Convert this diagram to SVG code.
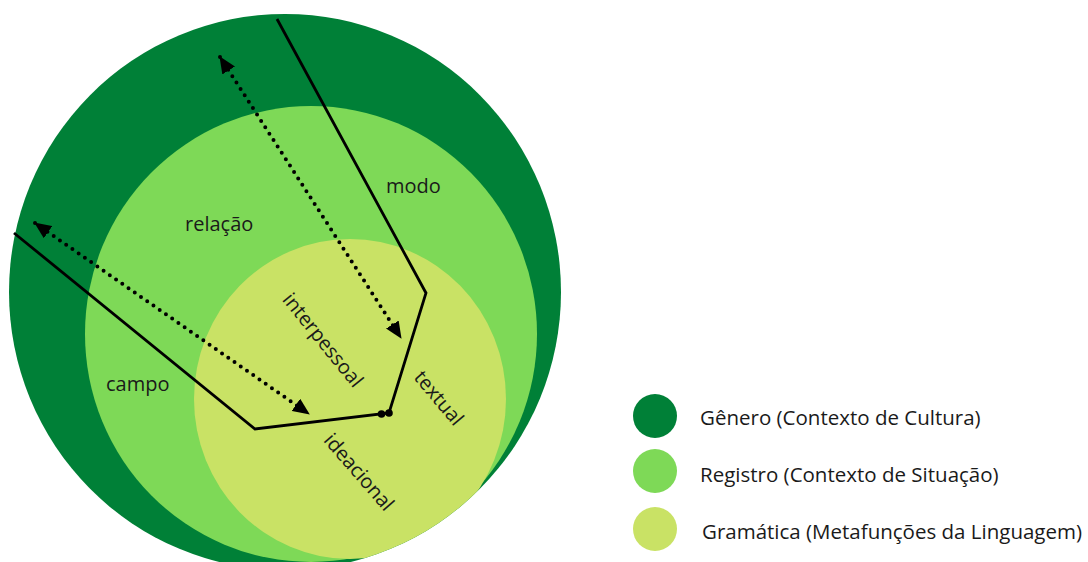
<svg xmlns="http://www.w3.org/2000/svg" width="1088" height="562" viewBox="0 0 1088 562">
<style>
.lbl{font-family:"Open Sans","Liberation Sans",sans-serif;font-size:20px;fill:#1a1a1a}
.leg{font-family:"Open Sans","Liberation Sans",sans-serif;font-size:20.5px;fill:#1a1a1a}
.g{fill:#008037}.r{fill:#7ED957}.m{fill:#C9E265}
.solid{fill:none;stroke:#000;stroke-width:2.8;stroke-linejoin:miter}
.dot{fill:none;stroke:#000;stroke-width:4;stroke-linecap:round;stroke-dasharray:0 7.6}
</style>
<defs>
<marker id="ah" markerUnits="userSpaceOnUse" markerWidth="17" markerHeight="15" refX="16" refY="7.5" orient="auto-start-reverse" viewBox="0 0 17 15">
<path d="M0,0 L17,7.5 L0,15 z" fill="#000"/>
</marker>
<clipPath id="outer"><ellipse cx="285" cy="292" rx="276" ry="278"/></clipPath>
</defs>
<g id="genero"><ellipse class="g" cx="285" cy="292" rx="276" ry="278"/></g>
<g clip-path="url(#outer)">
<g id="registro"><ellipse class="r" cx="311" cy="334" rx="226" ry="228"/></g>
<g id="gramatica"><ellipse class="m" cx="350" cy="399" rx="156" ry="160"/></g>
</g>
<g id="connectors">
<path class="solid" d="M277,19 L426,293 L389,413 L255,429 L14,233"/>
<circle cx="381.5" cy="414" r="3.8" fill="#000"/>
<circle cx="389" cy="413" r="3.8" fill="#000"/>
<path class="dot" d="M220,57 L401,338" marker-start="url(#ah)" marker-end="url(#ah)"/>
<path class="dot" d="M35,223 L309,414" marker-start="url(#ah)" marker-end="url(#ah)"/>
</g>
<g id="labels">
<text class="lbl" x="386" y="193">modo</text>
<text class="lbl" x="185" y="231">relação</text>
<text class="lbl" x="106" y="391">campo</text>
<text class="lbl" transform="translate(323,340) rotate(51)" text-anchor="middle" dy="7">interpessoal</text>
<text class="lbl" transform="translate(439,398) rotate(50)" text-anchor="middle" dy="7">textual</text>
<text class="lbl" transform="translate(359,472) rotate(49)" text-anchor="middle" dy="7">ideacional</text>
</g>
<g id="legend-genero"><circle class="g" cx="655" cy="416" r="22"/><text class="leg" x="700" y="425">Gênero (Contexto de Cultura)</text></g>
<g id="legend-registro"><circle class="r" cx="655" cy="471" r="22"/><text class="leg" x="700" y="482">Registro (Contexto de Situação)</text></g>
<g id="legend-gramatica"><circle class="m" cx="655" cy="529" r="22"/><text class="leg" x="702" y="539">Gramática (Metafunções da Linguagem)</text></g>
</svg>
